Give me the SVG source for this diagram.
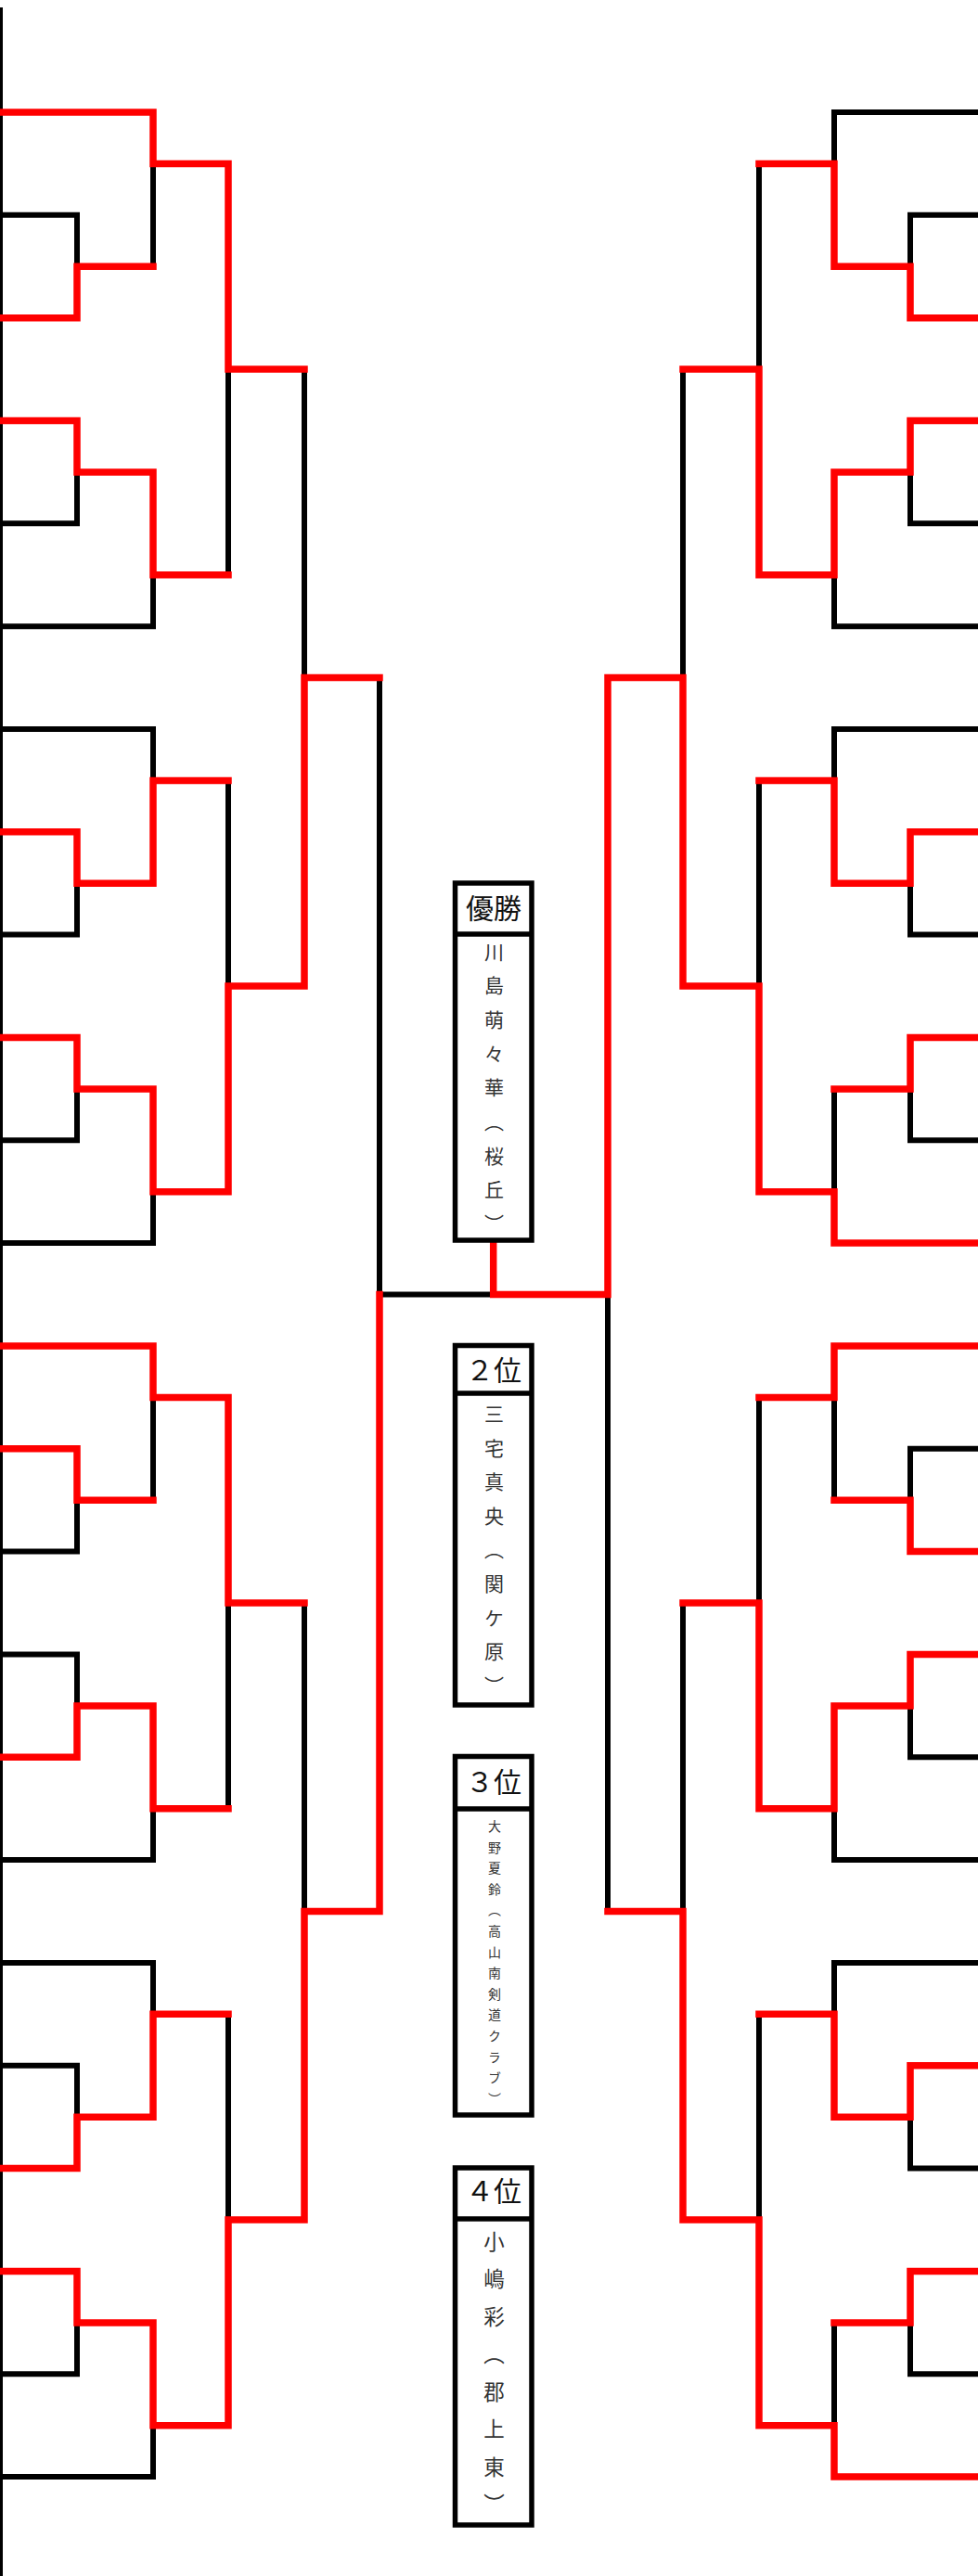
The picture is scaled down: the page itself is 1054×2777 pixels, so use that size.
<svg xmlns="http://www.w3.org/2000/svg" width="1054" height="2777" viewBox="0 0 1054 2777">
<style>
.blk{fill:none;stroke:#000;stroke-width:6;stroke-linecap:square}
.red{fill:none;stroke:#f00;stroke-width:7.5;stroke-linecap:square;stroke-linejoin:miter}
.box{fill:#fff;stroke:#000;stroke-width:5.5}
.title{font-family:"Noto Sans CJK JP","Noto Sans CJK SC",sans-serif;font-size:30px;fill:#111;text-anchor:middle}
.name{font-family:"Noto Sans CJK JP","Noto Sans CJK SC",sans-serif;fill:#333;writing-mode:vertical-rl}
</style>
<rect width="1054" height="2777" fill="#fff"/>
<g id="connectors">
<rect x="0" y="8" width="3" height="2769" fill="#000"/>
<path class="blk" d="M0,121H165 M0,231.8H83 M0,342.7H83 M0,453.5H83 M0,564.3H83 M0,675.2H165 M83,231.8V342.7 M83,453.5V564.3 M83,287.25H165 M83,508.9H165 M165,121V287.25 M165,508.9V675.2 M165,176.4H246 M165,619.75H246 M246,176.4V619.75 M246,398.1H328
M0,786H165 M0,896.8H83 M0,1007.6H83 M0,1118.5H83 M0,1229.3H83 M0,1340.1H165 M83,896.8V1007.6 M83,1118.5V1229.3 M83,952.2H165 M83,1173.9H165 M165,786V952.2 M165,1173.9V1340.1 M165,841.4H246 M165,1284.7H246 M246,841.4V1284.7 M246,1063.05H328
M0,1451H165 M0,1561.8H83 M0,1672.6H83 M0,1783.5H83 M0,1894.3H83 M0,2005.1H165 M83,1561.8V1672.6 M83,1783.5V1894.3 M83,1617.2H165 M83,1838.9H165 M165,1451V1617.2 M165,1838.9V2005.1 M165,1506.4H246 M165,1949.7H246 M246,1506.4V1949.7 M246,1728.05H328
M0,2115.9H165 M0,2226.8H83 M0,2337.6H83 M0,2448.5H83 M0,2559.3H83 M0,2670.1H165 M83,2226.8V2337.6 M83,2448.5V2559.3 M83,2282.2H165 M83,2503.9H165 M165,2115.9V2282.2 M165,2503.9V2670.1 M165,2171.35H246 M165,2614.7H246 M246,2171.35V2614.7 M246,2393H328
M328,398.1V1063.05 M328,730.6H409 M328,1728.05V2393 M328,2060.5H409 M409,730.6V2060.5 M409,1395.55H655 M655,730.6V2060.5
M736,398.1V1063.05 M736,730.6H655 M736,1728.05V2393 M736,2060.5H655
M1054,121H899 M1054,231.8H981 M1054,342.7H981 M1054,453.5H981 M1054,564.3H981 M1054,675.2H899 M981,231.8V342.7 M981,453.5V564.3 M981,287.25H899 M981,508.9H899 M899,121V287.25 M899,508.9V675.2 M899,176.4H818 M899,619.75H818 M818,176.4V619.75 M818,398.1H736
M1054,786H899 M1054,896.8H981 M1054,1007.6H981 M1054,1118.5H981 M1054,1229.3H981 M1054,1340.1H899 M981,896.8V1007.6 M981,1118.5V1229.3 M981,952.2H899 M981,1173.9H899 M899,786V952.2 M899,1173.9V1340.1 M899,841.4H818 M899,1284.7H818 M818,841.4V1284.7 M818,1063.05H736
M1054,1451H899 M1054,1561.8H981 M1054,1672.6H981 M1054,1783.5H981 M1054,1894.3H981 M1054,2005.1H899 M981,1561.8V1672.6 M981,1783.5V1894.3 M981,1617.2H899 M981,1838.9H899 M899,1451V1617.2 M899,1838.9V2005.1 M899,1506.4H818 M899,1949.7H818 M818,1506.4V1949.7 M818,1728.05H736
M1054,2115.9H899 M1054,2226.8H981 M1054,2337.6H981 M1054,2448.5H981 M1054,2559.3H981 M1054,2670.1H899 M981,2226.8V2337.6 M981,2448.5V2559.3 M981,2282.2H899 M981,2503.9H899 M899,2115.9V2282.2 M899,2503.9V2670.1 M899,2171.35H818 M899,2614.7H818 M818,2171.35V2614.7 M818,2393H736"/>
<path class="red" d="M0,121H165V176.4H246V398.1H328"/>
<path class="red" d="M0,342.7H83V287.25H165"/>
<path class="red" d="M0,453.5H83V508.9H165V619.75H246"/>
<path class="red" d="M0,896.8H83V952.2H165V841.4H246"/>
<path class="red" d="M0,1118.5H83V1173.9H165V1284.7H246V1063.05H328V730.6H409"/>
<path class="red" d="M0,1451H165V1506.4H246V1728.05H328"/>
<path class="red" d="M0,1561.8H83V1617.2H165"/>
<path class="red" d="M0,1894.3H83V1838.9H165V1949.7H246"/>
<path class="red" d="M0,2337.6H83V2282.2H165V2171.35H246"/>
<path class="red" d="M0,2448.5H83V2503.9H165V2614.7H246V2393H328V2060.5H409V1395.55"/>
<path class="red" d="M1054,342.7H981V287.25H899V176.4H818"/>
<path class="red" d="M1054,453.5H981V508.9H899V619.75H818V398.1H736"/>
<path class="red" d="M1054,896.8H981V952.2H899V841.4H818"/>
<path class="red" d="M1054,1118.5H981V1173.9H899"/>
<path class="red" d="M1054,1340.1H899V1284.7H818V1063.05H736V730.6H655V1395.55H531.7V1342"/>
<path class="red" d="M1054,1451H899V1506.4H818"/>
<path class="red" d="M1054,1672.6H981V1617.2H899"/>
<path class="red" d="M1054,1783.5H981V1838.9H899V1949.7H818V1728.05H736"/>
<path class="red" d="M1054,2226.8H981V2282.2H899V2171.35H818"/>
<path class="red" d="M1054,2448.5H981V2503.9H899"/>
<path class="red" d="M1054,2670.1H899V2614.7H818V2393H736V2060.5H655"/>
</g>
<g id="winner">
<rect class="box" x="490.5" y="952" width="82.5" height="385"/>
<line class="box" x1="490.5" y1="1007" x2="573" y2="1007"/>
<text class="title" x="532" y="990">優勝</text>
<text class="name" style="font-size:21px" x="532.5" y="1015.1 1051.8 1088.4 1125.1 1161.8 1198.4 1235.1 1271.8 1308.5">川島萌々華（桜丘）</text>
</g>
<g id="second">
<rect class="box" x="490.5" y="1450.5" width="82.5" height="387.5"/>
<line class="box" x1="490.5" y1="1502" x2="573" y2="1502"/>
<text class="title" x="532" y="1488">２位</text>
<text class="name" style="font-size:21px" x="532.5" y="1513.5 1550.1 1586.7 1623.3 1659.9 1696.5 1733.1 1769.7 1806.3">三宅真央（関ケ原）</text>
</g>
<g id="third">
<rect class="box" x="490.5" y="1893.5" width="82.5" height="386.5"/>
<line class="box" x1="490.5" y1="1950" x2="573" y2="1950"/>
<text class="title" x="532" y="1932">３位</text>
<text class="name" style="font-size:14px" x="533" y="1961.7 1984.3 2006.9 2029.5 2052.1 2074.7 2097.3 2119.9 2142.5 2165.1 2187.7 2210.3 2232.9 2255.5">大野夏鈴（高山南剣道クラブ）</text>
</g>
<g id="fourth">
<rect class="box" x="490.5" y="2337" width="82.5" height="385"/>
<line class="box" x1="490.5" y1="2392" x2="573" y2="2392"/>
<text class="title" x="532" y="2373">４位</text>
<text class="name" style="font-size:22.5px" x="532.5" y="2405 2445.5 2486 2526.5 2567 2607.5 2648 2688.5">小嶋彩（郡上東）</text>
</g>
</svg>
